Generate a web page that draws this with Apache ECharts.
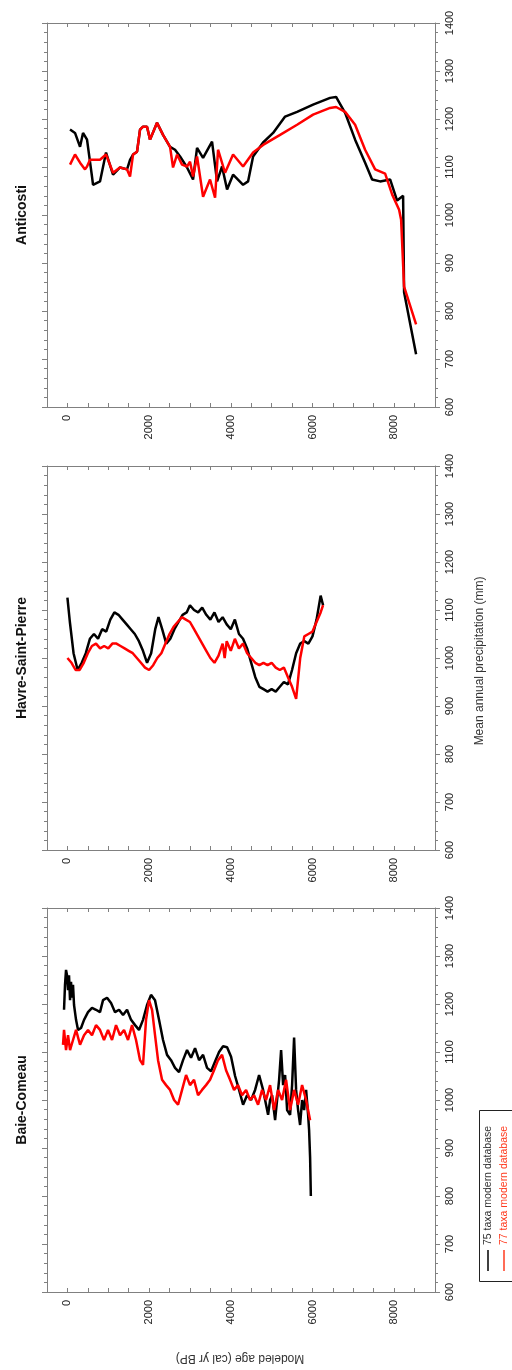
<!DOCTYPE html>
<html>
<head>
<meta charset="utf-8">
<script src="https://cdn.jsdelivr.net/npm/echarts@6/dist/echarts.min.js"></script>
<style>
  html, body { margin: 0; padding: 0; background: #fff; }
  #chart { width: 512px; height: 1370px; }
</style>
</head>
<body>
<div id="chart"></div>
<script>
// Reconstructed mean annual precipitation (mm) against modeled age (cal yr BP)
// for three sites, using two modern pollen databases.

const siteNames = ['Anticosti', 'Havre-Saint-Pierre', 'Baie-Comeau'];
const seriesNames = ['75 taxa modern database', '77 taxa modern database'];
const ageTicks = [0, 2000, 4000, 6000, 8000];

// [age, precipitation]
const anticosti75 = [
  [64,1178],[186,1171],[309,1142],[382,1171],[480,1157],[602,1080],[627,1063],[798,1070],
  [945,1130],[1117,1084],[1288,1099],[1460,1095],[1533,1115],[1607,1126],[1705,1132],
  [1778,1178],[1852,1184],[1949,1184],[2023,1157],[2194,1192],[2341,1167],[2513,1142],
  [2635,1136],[2758,1122],[2929,1099],[3076,1074],[3174,1140],[3321,1119],[3541,1153],
  [3664,1070],[3786,1101],[3909,1053],[4056,1084],[4301,1063],[4423,1070],[4546,1122],
  [4791,1151],[5036,1171],[5330,1205],[5623,1215],[6015,1230],[6431,1244],[6578,1246],
  [6799,1213],[7044,1157],[7289,1109],[7460,1074],[7656,1070],[7901,1074],[8072,1030],
  [8219,1040],[8243,839],[8537,710]
];
const anticosti77 = [
  [64,1105],[186,1126],[309,1109],[431,1095],[480,1101],[553,1115],[798,1115],[945,1126],
  [1117,1088],[1288,1099],[1460,1095],[1533,1080],[1607,1126],[1705,1132],[1778,1178],
  [1852,1184],[1949,1184],[2023,1157],[2194,1192],[2341,1167],[2513,1142],[2586,1099],
  [2684,1126],[2806,1105],[2929,1101],[3002,1111],[3076,1080],[3174,1122],[3321,1038],
  [3492,1074],[3615,1036],[3688,1136],[3860,1088],[4056,1126],[4301,1101],[4546,1130],
  [4791,1146],[5207,1167],[5623,1188],[6015,1209],[6431,1223],[6578,1225],[6799,1215],
  [7044,1188],[7289,1136],[7534,1095],[7779,1086],[7950,1043],[8121,1011],[8170,990],
  [8243,851],[8537,772]
];

const havre75 = [
  [0,1126],[60,1075],[150,1010],[250,975],[350,990],[450,1010],[550,1040],[650,1050],
  [750,1040],[850,1060],[950,1055],[1050,1080],[1150,1095],[1250,1090],[1350,1080],
  [1450,1070],[1550,1060],[1650,1050],[1750,1035],[1850,1015],[1950,990],[2050,1010],
  [2150,1060],[2230,1085],[2320,1060],[2420,1030],[2520,1040],[2620,1060],[2720,1075],
  [2820,1090],[2920,1095],[3000,1110],[3100,1100],[3200,1095],[3300,1105],[3400,1090],
  [3500,1080],[3600,1095],[3700,1075],[3800,1085],[3900,1070],[4000,1060],[4100,1080],
  [4200,1050],[4300,1040],[4400,1020],[4500,990],[4600,960],[4700,940],[4800,935],
  [4900,930],[5000,935],[5100,930],[5200,940],[5300,950],[5400,945],[5500,975],
  [5600,1010],[5700,1030],[5800,1035],[5900,1030],[6000,1045],[6100,1080],[6200,1130],
  [6260,1110]
];
const havre77 = [
  [0,1000],[100,990],[200,975],[300,975],[400,990],[500,1010],[600,1025],[700,1030],
  [800,1020],[900,1025],[1000,1020],[1100,1030],[1200,1030],[1300,1025],[1400,1020],
  [1500,1015],[1600,1010],[1700,1000],[1800,990],[1900,980],[2000,975],[2100,985],
  [2200,1000],[2300,1010],[2400,1030],[2500,1050],[2600,1065],[2700,1075],[2800,1085],
  [2900,1080],[3000,1075],[3100,1060],[3200,1045],[3300,1030],[3400,1015],[3500,1000],
  [3600,990],[3700,1005],[3800,1030],[3850,1000],[3900,1035],[4000,1015],[4100,1040],
  [4200,1020],[4300,1030],[4400,1010],[4500,1000],[4600,990],[4700,985],[4800,990],
  [4900,985],[5000,990],[5100,980],[5200,975],[5300,980],[5400,960],[5500,940],
  [5600,915],[5700,1000],[5800,1045],[5900,1050],[6000,1055],[6100,1075],[6200,1095],
  [6260,1110]
];

const baie75 = [
  [-83,1188],[-59,1240],[-34,1271],[-10,1260],[15,1229],[39,1260],[64,1208],[88,1246],
  [113,1213],[137,1240],[162,1198],[211,1167],[260,1146],[333,1150],[407,1167],[504,1183],
  [602,1192],[700,1188],[798,1183],[872,1208],[970,1213],[1068,1202],[1166,1183],[1264,1188],
  [1362,1177],[1460,1188],[1558,1167],[1656,1156],[1753,1146],[1851,1167],[1949,1198],
  [2047,1219],[2145,1208],[2243,1167],[2341,1125],[2439,1094],[2537,1083],[2635,1067],
  [2733,1058],[2831,1083],[2929,1104],[3027,1088],[3125,1108],[3223,1083],[3321,1094],
  [3419,1067],[3517,1060],[3615,1080],[3713,1100],[3811,1112],[3909,1110],[4007,1090],
  [4105,1050],[4203,1021],[4301,990],[4399,1010],[4497,1000],[4595,1021],[4693,1052],
  [4791,1021],[4864,990],[4913,969],[4962,1000],[5011,1010],[5085,958],[5134,1000],
  [5183,1042],[5232,1104],[5281,1031],[5330,1052],[5379,979],[5452,969],[5501,1031],
  [5550,1130],[5599,1021],[5648,979],[5697,948],[5746,1000],[5795,979],[5844,1021],
  [5893,969],[5917,938],[5942,880],[5960,800]
];
const baie77 = [
  [-108,1115],[-83,1146],[-34,1104],[15,1135],[64,1104],[137,1125],[211,1146],[309,1115],
  [407,1135],[504,1146],[602,1135],[700,1156],[798,1146],[896,1125],[994,1146],[1092,1125],
  [1190,1156],[1288,1135],[1386,1146],[1484,1125],[1582,1156],[1680,1125],[1778,1083],
  [1851,1073],[1925,1167],[1998,1208],[2072,1188],[2145,1135],[2219,1083],[2317,1042],
  [2415,1031],[2513,1021],[2611,1000],[2709,990],[2807,1021],[2905,1052],[3002,1031],
  [3100,1042],[3198,1010],[3296,1021],[3394,1031],[3492,1042],[3590,1062],[3688,1083],
  [3786,1094],[3884,1062],[3982,1042],[4080,1021],[4178,1031],[4276,1010],[4374,1021],
  [4472,1000],[4570,1010],[4668,990],[4766,1021],[4864,1000],[4962,1031],[5060,979],
  [5158,1021],[5256,1000],[5354,1042],[5452,979],[5550,1021],[5648,990],[5746,1031],
  [5844,1000],[5942,958]
];

const panelTops = [23, 466, 908];
const panelHeight = 384;
const axisGrey = '#808080';
const labelColor = '#222';
const fontFamily = 'Liberation Sans, Arial, sans-serif';

const grids = [], xAxes = [], yAxes = [], series = [];
const pairs = [[anticosti75, anticosti77], [havre75, havre77], [baie75, baie77]];

panelTops.forEach((top, i) => {
  grids.push({ left: 47, right: 77, top: top, height: panelHeight, containLabel: false });
  const xCommon = {
    gridIndex: i, type: 'value', min: -500, max: 9000, interval: 500,
    axisLine: { show: true, onZero: false, lineStyle: { color: axisGrey, width: 1 } },
    axisTick: { show: true, inside: true, length: 4, lineStyle: { color: axisGrey } },
    splitLine: { show: false }
  };
  xAxes.push(Object.assign({}, xCommon, {
    position: 'bottom',
    axisLabel: {
      show: true, rotate: 90, margin: 8, fontSize: 11, color: labelColor, fontFamily,
      formatter: v => (ageTicks.indexOf(v) >= 0 ? String(v) : '')
    }
  }));
  xAxes.push(Object.assign({}, xCommon, { position: 'top', axisLabel: { show: false } }));

  const yCommon = {
    gridIndex: i, type: 'value', min: 600, max: 1400, interval: 100,
    axisLine: { show: true, onZero: false, lineStyle: { color: axisGrey, width: 1 } },
    axisTick: { show: true, inside: false, length: 5, lineStyle: { color: axisGrey } },
    minorTick: { show: true, splitNumber: 5, length: 3, lineStyle: { color: axisGrey } },
    splitLine: { show: false }, minorSplitLine: { show: false }
  };
  yAxes.push(Object.assign({}, yCommon, {
    position: 'right',
    axisLabel: {
      show: true, rotate: 90, margin: 9, fontSize: 11, color: labelColor, fontFamily,
      formatter: v => String(v)
    }
  }));
  yAxes.push(Object.assign({}, yCommon, { position: 'left', axisLabel: { show: false } }));

  const colors = ['#000000', '#ff0000'];
  pairs[i].forEach((data, k) => {
    series.push({
      name: seriesNames[k], type: 'line', data: data,
      xAxisIndex: i * 2, yAxisIndex: i * 2,
      showSymbol: false, symbol: 'none', clip: true, animation: false,
      lineStyle: { color: colors[k], width: 2.5 }, z: 2 + k
    });
  });
});

const graphics = [];
siteNames.forEach((name, i) => {
  graphics.push({
    type: 'text', x: 22, y: panelTops[i] + panelHeight / 2, rotation: Math.PI / 2,
    style: { text: name, font: 'bold 14px ' + fontFamily, fill: '#111', align: 'center', verticalAlign: 'middle' }
  });
});
graphics.push({
  type: 'text', x: 480, y: 661, rotation: Math.PI / 2,
  style: { text: 'Mean annual precipitation (mm)', font: '12px ' + fontFamily, fill: '#333', align: 'center', verticalAlign: 'middle' }
});
graphics.push({
  type: 'text', x: 240, y: 1358, rotation: Math.PI,
  style: { text: 'Modeled age (cal yr BP)', font: '12px ' + fontFamily, fill: '#333', align: 'center', verticalAlign: 'middle' }
});
// legend box
graphics.push({
  type: 'rect', shape: { x: 479.5, y: 1110.5, width: 60, height: 171 },
  style: { fill: '#fff', stroke: '#222', lineWidth: 1 }
});
[['#000', 488, seriesNames[0], '#333'], ['#ff3b1f', 504, seriesNames[1], '#ff3b1f']].forEach(([c, x, t, tc]) => {
  graphics.push({ type: 'line', shape: { x1: x, y1: 1250, x2: x, y2: 1271 }, style: { stroke: c, lineWidth: 1.5 } });
  graphics.push({
    type: 'text', x: x, y: 1245, rotation: Math.PI / 2,
    style: { text: t, font: '10.5px ' + fontFamily, fill: tc, align: 'left', verticalAlign: 'middle' }
  });
});

const chart = echarts.init(document.getElementById('chart'), null, { renderer: 'canvas' });
chart.setOption({
  backgroundColor: '#ffffff',
  animation: false,
  grid: grids, xAxis: xAxes, yAxis: yAxes, series: series,
  graphic: graphics
});
</script>
</body>
</html>
